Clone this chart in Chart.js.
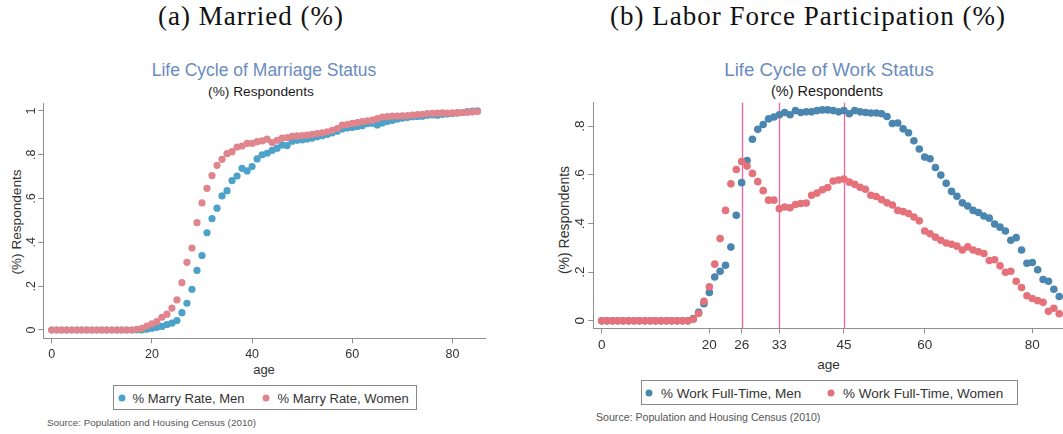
<!DOCTYPE html>
<html>
<head>
<meta charset="utf-8">
<title>Life Cycle of Marriage and Work Status</title>
<script src="https://cdn.jsdelivr.net/npm/chart.js@4.4.1/dist/chart.umd.min.js"></script>
<style>
  html, body { margin: 0; padding: 0; background: #fff; width: 1063px; height: 434px; overflow: hidden; position: relative; }
  .abs { position: absolute; white-space: nowrap; }
  .center { transform: translate(-50%, -50%); }
  .caption { font-family: "Liberation Serif", "Times New Roman", serif; font-size: 27px; letter-spacing: 1px; color: #111; }
  .sans { font-family: "Liberation Sans", Arial, sans-serif; }
  .ctitle { color: #6a8cbd; }
  .csub { color: #1a1a1a; }
  .axtitle { color: #333; }
  .ytitle { color: #333; transform: translate(-50%, -50%) rotate(-90deg); }
  .legend { border: 1px solid #888; box-sizing: border-box; }
  .legend .dot { position: absolute; width: 7px; height: 7px; border-radius: 50%; top: 50%; transform: translate(-50%, -50%); }
  .legend .lab { position: absolute; top: 50%; transform: translateY(-50%); color: #333; white-space: nowrap; }
  .source { color: #555; transform: translateY(-50%); }
  canvas { position: absolute; }
</style>
</head>
<body>

<!-- panel captions -->
<div class="abs center caption" style="left:251px; top:16px;">(a) Married (%)</div>
<div class="abs center caption" style="left:808px; top:16px;">(b) Labor Force Participation (%)</div>

<!-- left panel text -->
<div class="abs center sans ctitle" style="left:264px; top:70px; font-size:17.5px;">Life Cycle of Marriage Status</div>
<div class="abs center sans csub" style="left:261px; top:91px; font-size:13.7px;">(%) Respondents</div>
<div class="abs sans ytitle" style="left:16px; top:222px; font-size:13.6px;">(%) Respondents</div>
<div class="abs center sans axtitle" style="left:264px; top:369px; font-size:13px;">age</div>
<div id="legendMarried" class="abs legend sans" style="left:113px; top:385px; width:304px; height:25px; font-size:13px;"></div>
<div class="abs sans source" style="left:47px; top:421.5px; font-size:9.9px;">Source: Population and Housing Census (2010)</div>

<!-- right panel text -->
<div class="abs center sans ctitle" style="left:829px; top:70px; font-size:18.7px;">Life Cycle of Work Status</div>
<div class="abs center sans csub" style="left:827px; top:91px; font-size:14.5px;">(%) Respondents</div>
<div class="abs sans ytitle" style="left:564px; top:220px; font-size:14px;">(%) Respondents</div>
<div class="abs center sans axtitle" style="left:828.5px; top:363.5px; font-size:13.6px;">age</div>
<div id="legendWork" class="abs legend sans" style="left:641px; top:380px; width:377px; height:25px; font-size:13.5px;"></div>
<div class="abs sans source" style="left:596px; top:417px; font-size:10.6px;">Source: Population and Housing Census (2010)</div>

<canvas id="married" width="500" height="275" style="left:0px; top:95px;"></canvas>
<canvas id="work" width="540" height="275" style="left:540px; top:95px;"></canvas>

<script>
// Age index shared by all series (0 to 85 years)
const ages = Array.from({ length: 86 }, (_, i) => i);

// Share married, by age
const marriedMen = [
  0, 0, 0, 0, 0, 0, 0, 0, 0, 0,
  0, 0, 0, 0, 0, 0, 0, 0, 0, 0.003,
  0.008, 0.012, 0.016, 0.025, 0.031, 0.043, 0.079, 0.122, 0.186, 0.272,
  0.340, 0.444, 0.508, 0.556, 0.612, 0.636, 0.682, 0.703, 0.738, 0.726,
  0.746, 0.781, 0.800, 0.807, 0.820, 0.830, 0.845, 0.842, 0.862, 0.866,
  0.868, 0.872, 0.876, 0.882, 0.887, 0.893, 0.900, 0.907, 0.918, 0.922,
  0.925, 0.929, 0.933, 0.942, 0.944, 0.936, 0.945, 0.952, 0.957, 0.963,
  0.967, 0.970, 0.974, 0.975, 0.976, 0.981, 0.982, 0.981, 0.984, 0.986,
  0.988, 0.991, 0.993, 0.997, 0.999, 1.000
];
const marriedWomen = [
  0, 0, 0, 0, 0, 0, 0, 0, 0, 0,
  0, 0, 0, 0, 0, 0, 0, 0.003, 0.008, 0.018,
  0.028, 0.038, 0.058, 0.072, 0.100, 0.137, 0.216, 0.309, 0.374, 0.490,
  0.580, 0.647, 0.705, 0.752, 0.779, 0.805, 0.814, 0.835, 0.840, 0.852,
  0.852, 0.860, 0.863, 0.871, 0.856, 0.866, 0.876, 0.878, 0.884, 0.886,
  0.888, 0.890, 0.893, 0.897, 0.900, 0.905, 0.912, 0.920, 0.935, 0.938,
  0.943, 0.947, 0.951, 0.955, 0.958, 0.965, 0.972, 0.974, 0.976, 0.977,
  0.978, 0.979, 0.981, 0.983, 0.985, 0.988, 0.989, 0.990, 0.991, 0.990,
  0.991, 0.992, 0.993, 0.994, 0.996, 0.997
];

// Share working full-time, by age
const workMen = [
  0, 0, 0, 0, 0, 0, 0, 0, 0, 0,
  0, 0, 0, 0, 0, 0, 0, 0.009, 0.035, 0.070,
  0.117, 0.180, 0.204, 0.228, 0.303, 0.434, 0.568, 0.659, 0.746, 0.787,
  0.807, 0.830, 0.838, 0.847, 0.856, 0.847, 0.864, 0.856, 0.859, 0.859,
  0.864, 0.867, 0.867, 0.864, 0.859, 0.864, 0.851, 0.864, 0.859, 0.856,
  0.854, 0.854, 0.851, 0.840, 0.811, 0.813, 0.789, 0.773, 0.740, 0.706,
  0.673, 0.666, 0.630, 0.599, 0.565, 0.532, 0.512, 0.485, 0.472, 0.454,
  0.445, 0.431, 0.422, 0.398, 0.385, 0.369, 0.331, 0.342, 0.291, 0.237,
  0.240, 0.210, 0.170, 0.163, 0.130, 0.100
];
const workWomen = [
  0, 0, 0, 0, 0, 0, 0, 0, 0, 0,
  0, 0, 0, 0, 0, 0, 0, 0.007, 0.030, 0.080,
  0.140, 0.233, 0.338, 0.454, 0.563, 0.622, 0.655, 0.636, 0.606, 0.572,
  0.535, 0.496, 0.496, 0.461, 0.468, 0.465, 0.478, 0.482, 0.484, 0.516,
  0.525, 0.539, 0.548, 0.575, 0.579, 0.583, 0.570, 0.561, 0.549, 0.541,
  0.516, 0.511, 0.498, 0.485, 0.476, 0.454, 0.449, 0.441, 0.427, 0.411,
  0.369, 0.358, 0.344, 0.331, 0.320, 0.315, 0.307, 0.291, 0.304, 0.291,
  0.284, 0.277, 0.248, 0.251, 0.226, 0.200, 0.204, 0.163, 0.137, 0.103,
  0.092, 0.083, 0.076, 0.039, 0.052, 0.029
];

// Axis ticks and labels
const marriedXTicks = [0, 20, 40, 60, 80];
const workXTicks = [0, 20, 26, 33, 45, 60, 80];
const marriedYTicks = [0, 0.2, 0.4, 0.6, 0.8, 1];
const marriedYLabels = ['0', '.2', '.4', '.6', '.8', '1'];
const workYTicks = [0, 0.2, 0.4, 0.6, 0.8];
const workYLabels = ['0', '.2', '.4', '.6', '.8'];

// Reference ages marked with vertical lines in the work panel
const workMarkerAges = [26, 33, 45];

// Series names
const marriedNames = ['% Marry Rate, Men', '% Marry Rate, Women'];
const workNames = ['% Work Full-Time, Men', '% Work Full-Time, Women'];

const AXIS_COLOR = '#8f8f8f';
Chart.defaults.font.family = '"Liberation Sans", Arial, sans-serif';

// Rotated (bottom-to-top) y tick labels, placed at the scale's tick pixels
const rotatedYLabels = {
  id: 'rotatedYLabels',
  afterDraw(chart, args, opts) {
    if (!opts.values) return;
    const { ctx } = chart;
    const y = chart.scales.y;
    ctx.save();
    ctx.font = opts.size + 'px "Liberation Sans", Arial, sans-serif';
    ctx.fillStyle = opts.color;
    ctx.textAlign = 'center';
    ctx.textBaseline = 'alphabetic';
    opts.values.forEach((v, i) => {
      ctx.save();
      ctx.translate(opts.baselineX, y.getPixelForValue(v));
      ctx.rotate(-Math.PI / 2);
      ctx.fillText(opts.labels[i], 0, 0);
      ctx.restore();
    });
    ctx.restore();
  }
};

// Vertical reference lines at given ages
const ageMarkers = {
  id: 'ageMarkers',
  beforeDatasetsDraw(chart, args, opts) {
    if (!opts.values) return;
    const { ctx, chartArea } = chart;
    const x = chart.scales.x;
    ctx.save();
    ctx.strokeStyle = opts.color;
    ctx.lineWidth = opts.width;
    opts.values.forEach(v => {
      const px = Math.round(x.getPixelForValue(v)) + 0.5;
      ctx.beginPath();
      ctx.moveTo(px, chartArea.top);
      ctx.lineTo(px, chartArea.bottom);
      ctx.stroke();
    });
    ctx.restore();
  }
};

function series(values) {
  return ages.map((a, i) => ({ x: a, y: values[i] }));
}

function makePanel(id, p) {
  const axisGrid = { display: true, drawOnChartArea: false, drawTicks: true, tickLength: 5, color: AXIS_COLOR, lineWidth: 1 };
  const axisBorder = { display: true, color: AXIS_COLOR, width: 1 };
  return new Chart(document.getElementById(id), {
    type: 'scatter',
    data: {
      datasets: [
        { label: p.names[0], data: series(p.men), backgroundColor: p.colors[0], order: 1 },
        { label: p.names[1], data: series(p.women), backgroundColor: p.colors[1], order: 0 }
      ]
    },
    options: {
      responsive: false,
      animation: false,
      events: [],
      layout: { autoPadding: false, padding: p.padding },
      elements: { point: { radius: p.radius, hoverRadius: p.radius, borderWidth: 0 } },
      scales: {
        x: {
          type: 'linear', min: p.xMin, max: p.xMax,
          afterBuildTicks: s => { s.ticks = p.xTicks.map(v => ({ value: v })); },
          afterFit: s => { s.height = p.xAxisHeight; },
          ticks: { color: '#333', font: { size: p.tickSize }, padding: 4, maxRotation: 0, minRotation: 0, autoSkip: false, callback: v => String(v) },
          grid: axisGrid, border: axisBorder
        },
        y: {
          type: 'linear', min: p.yMin, max: p.yMax,
          afterBuildTicks: s => { s.ticks = p.yTicks.map(v => ({ value: v })); },
          afterFit: s => { s.width = p.yAxisWidth; },
          ticks: { display: false },
          grid: axisGrid, border: axisBorder
        }
      },
      plugins: {
        legend: { display: false },
        tooltip: { enabled: false },
        rotatedYLabels: { values: p.yTicks, labels: p.yLabels, baselineX: p.yLabelX, size: p.tickSize, color: '#333' },
        ageMarkers: p.markers ? { values: p.markers, color: '#f7629c', width: 1.3 } : {}
      }
    },
    plugins: [rotatedYLabels, ageMarkers]
  });
}

// Legend built from the chart's datasets
function buildLegend(chart, el, slots) {
  chart.data.datasets.forEach((ds, i) => {
    const dot = document.createElement('span');
    dot.className = 'dot';
    dot.style.left = slots[i].dot + 'px';
    dot.style.background = ds.backgroundColor;
    const lab = document.createElement('span');
    lab.className = 'lab';
    lab.style.left = slots[i].text + 'px';
    lab.textContent = ds.label;
    el.appendChild(dot);
    el.appendChild(lab);
  });
}

const marriedChart = makePanel('married', {
  names: marriedNames, men: marriedMen, women: marriedWomen,
  colors: ['#4ca2c9', '#e0858d'],
  xTicks: marriedXTicks, yTicks: marriedYTicks, yLabels: marriedYLabels,
  xMin: -1.68, xMax: 86.5, yMin: -0.038, yMax: 1.035,
  padding: { left: 0, top: 8.3, right: 15, bottom: 0 },
  xAxisHeight: 31.7, yAxisWidth: 43.3, yLabelX: 35.3,
  tickSize: 12.5, radius: 3.6
});

const workChart = makePanel('work', {
  names: workNames, men: workMen, women: workWomen,
  colors: ['#4a86b0', '#e5727b'],
  xTicks: workXTicks, yTicks: workYTicks, yLabels: workYLabels,
  xMin: -1.56, xMax: 87, yMin: -0.0306, yMax: 0.8965,
  padding: { left: 0, top: 7.7, right: 10, bottom: 0 },
  xAxisHeight: 41.7, yAxisWidth: 53.3, yLabelX: 43.8,
  tickSize: 13.5, radius: 3.8, markers: workMarkerAges
});

buildLegend(marriedChart, document.getElementById('legendMarried'), [{ dot: 7.5, text: 18.5 }, { dot: 152, text: 163.5 }]);
buildLegend(workChart, document.getElementById('legendWork'), [{ dot: 7, text: 19 }, { dot: 189, text: 201 }]);
</script>
</body>
</html>
